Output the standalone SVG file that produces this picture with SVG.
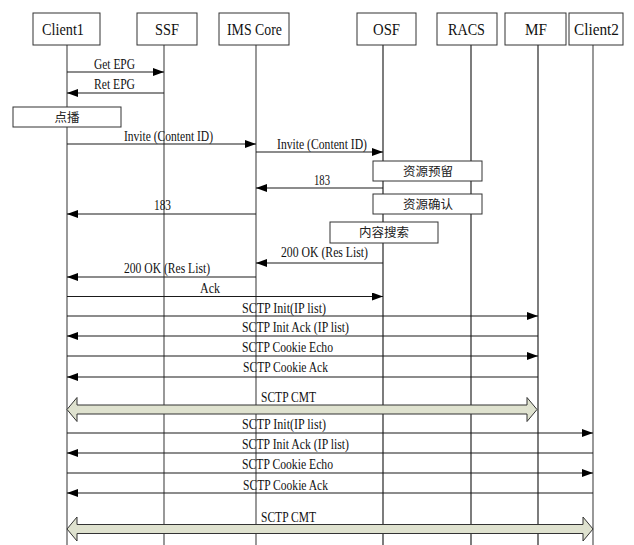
<svg xmlns="http://www.w3.org/2000/svg" width="634" height="545" viewBox="0 0 634 545">
<style>
.bg{fill:#fff}
.hdr{fill:#fff;stroke:#333;stroke-width:1}
.life{stroke:#444;stroke-width:1.1;fill:none}
.life2{stroke:#111;stroke-width:1.1;fill:none}
.ht{font-family:"Liberation Serif",serif;font-size:17.5px;fill:#111}
.lt{font-family:"Liberation Serif",serif;font-size:15px;fill:#111}
.ct{font-family:"Liberation Serif","Noto Sans CJK SC",sans-serif;font-size:12.5px;fill:#222;text-anchor:middle}
.msg{stroke:#1a1a1a;stroke-width:1.1;fill:none;marker-end:url(#ah)}
.act{fill:#fff;stroke:#333;stroke-width:1}
.blk{fill:#dfe2cf;stroke:#333;stroke-width:1}
</style>
<defs>
<marker id="ah" viewBox="0 0 11 8" refX="11" refY="4" markerWidth="11" markerHeight="8" markerUnits="userSpaceOnUse" orient="auto">
<path d="M0,0 L11,4 L0,8 z" fill="#000"/>
</marker>
</defs>
<rect class="bg" x="0" y="0" width="634" height="545"/>

<g id="client1"><line class="life" x1="67" y1="45" x2="67" y2="545"/><rect class="hdr" x="33" y="13" width="67" height="32"/><text class="ht" x="42" y="35" textLength="42" lengthAdjust="spacingAndGlyphs">Client1</text></g>
<g id="ssf"><line class="life" x1="164" y1="45" x2="164" y2="545"/><rect class="hdr" x="137" y="13" width="60" height="32"/><text class="ht" x="155" y="35" textLength="24" lengthAdjust="spacingAndGlyphs">SSF</text></g>
<g id="imscore"><line class="life" x1="256" y1="45" x2="256" y2="545"/><rect class="hdr" x="219" y="13" width="70" height="32"/><text class="ht" x="227" y="35" textLength="55" lengthAdjust="spacingAndGlyphs">IMS Core</text></g>
<g id="osf"><line class="life2" x1="383" y1="45" x2="383" y2="545"/><rect class="hdr" x="357" y="13" width="59" height="32"/><text class="ht" x="373" y="35" textLength="27" lengthAdjust="spacingAndGlyphs">OSF</text></g>
<g id="racs"><line class="life2" x1="471" y1="45" x2="471" y2="545"/><rect class="hdr" x="437" y="13" width="60" height="32"/><text class="ht" x="448" y="35" textLength="37" lengthAdjust="spacingAndGlyphs">RACS</text></g>
<g id="mf"><line class="life2" x1="538" y1="45" x2="538" y2="545"/><rect class="hdr" x="505" y="13" width="61" height="32"/><text class="ht" x="525" y="35" textLength="22" lengthAdjust="spacingAndGlyphs">MF</text></g>
<g id="client2"><line class="life" x1="593" y1="45" x2="593" y2="545"/><rect class="hdr" x="569" y="13" width="54" height="32"/><text class="ht" x="574" y="35" textLength="45" lengthAdjust="spacingAndGlyphs">Client2</text></g>

<g id="dianbo"><rect class="act" x="13" y="107" width="108" height="20"/><text class="ct" x="67" y="122">点播</text></g>
<g id="ziyuanyuliu"><rect class="act" x="373" y="161" width="109" height="20"/><text class="ct" x="428" y="176">资源预留</text></g>
<g id="ziyuanqueren"><rect class="act" x="373" y="194" width="109" height="20"/><text class="ct" x="428" y="209">资源确认</text></g>
<g id="neirongsousuo"><rect class="act" x="330" y="222" width="108" height="21"/><text class="ct" x="384" y="237">内容搜索</text></g>

<g id="connectors">
<line class="msg" x1="67" y1="72" x2="164" y2="72"/>
<text class="lt" x="94" y="69" textLength="41" lengthAdjust="spacingAndGlyphs">Get EPG</text>
<line class="msg" x1="164" y1="93" x2="67" y2="93"/>
<text class="lt" x="94" y="89" textLength="41" lengthAdjust="spacingAndGlyphs">Ret EPG</text>

<line class="msg" x1="67" y1="144" x2="256" y2="144"/>
<text class="lt" x="124" y="141" textLength="89" lengthAdjust="spacingAndGlyphs">Invite (Content ID)</text>
<line class="msg" x1="256" y1="152" x2="383" y2="152"/>
<text class="lt" x="277" y="149" textLength="90" lengthAdjust="spacingAndGlyphs">Invite (Content ID)</text>

<line class="msg" x1="383" y1="188" x2="256" y2="188"/>
<text class="lt" x="314" y="185" textLength="16" lengthAdjust="spacingAndGlyphs">183</text>
<line class="msg" x1="256" y1="214" x2="67" y2="214"/>
<text class="lt" x="154" y="210" textLength="17" lengthAdjust="spacingAndGlyphs">183</text>

<line class="msg" x1="383" y1="263" x2="256" y2="263"/>
<text class="lt" x="281" y="257" textLength="87" lengthAdjust="spacingAndGlyphs">200 OK (Res List)</text>
<line class="msg" x1="256" y1="277" x2="67" y2="277"/>
<text class="lt" x="124" y="273" textLength="86" lengthAdjust="spacingAndGlyphs">200 OK (Res List)</text>

<line class="msg" x1="67" y1="296.5" x2="383" y2="296.5"/>
<text class="lt" x="200" y="293" textLength="20" lengthAdjust="spacingAndGlyphs">Ack</text>

<line class="msg" x1="67" y1="316" x2="538" y2="316"/>
<text class="lt" x="242" y="313" textLength="84" lengthAdjust="spacingAndGlyphs">SCTP Init(IP list)</text>
<line class="msg" x1="538" y1="336" x2="67" y2="336"/>
<text class="lt" x="242" y="332" textLength="107" lengthAdjust="spacingAndGlyphs">SCTP Init Ack (IP list)</text>
<line class="msg" x1="67" y1="356" x2="538" y2="356"/>
<text class="lt" x="242" y="352" textLength="91" lengthAdjust="spacingAndGlyphs">SCTP Cookie Echo</text>
<line class="msg" x1="538" y1="377" x2="67" y2="377"/>
<text class="lt" x="243" y="372" textLength="85" lengthAdjust="spacingAndGlyphs">SCTP Cookie Ack</text>

<polygon class="blk" points="67,409.5 77,397.5 77,405 527,405 527,397.5 537,409.5 527,421.5 527,414 77,414 77,421.5"/>
<text class="lt" x="261" y="402" textLength="55" lengthAdjust="spacingAndGlyphs">SCTP CMT</text>

<line class="msg" x1="67" y1="433" x2="593" y2="433"/>
<text class="lt" x="242" y="429" textLength="84" lengthAdjust="spacingAndGlyphs">SCTP Init(IP list)</text>
<line class="msg" x1="593" y1="453" x2="67" y2="453"/>
<text class="lt" x="242" y="449" textLength="107" lengthAdjust="spacingAndGlyphs">SCTP Init Ack (IP list)</text>
<line class="msg" x1="67" y1="473" x2="593" y2="473"/>
<text class="lt" x="242" y="469" textLength="91" lengthAdjust="spacingAndGlyphs">SCTP Cookie Echo</text>
<line class="msg" x1="593" y1="493" x2="67" y2="493"/>
<text class="lt" x="243" y="490" textLength="85" lengthAdjust="spacingAndGlyphs">SCTP Cookie Ack</text>

<polygon class="blk" points="67,529 77,517 77,524.5 583,524.5 583,517 593,529 583,541 583,533.5 77,533.5 77,541"/>
<text class="lt" x="261" y="522" textLength="55" lengthAdjust="spacingAndGlyphs">SCTP CMT</text>
</g>
</svg>
